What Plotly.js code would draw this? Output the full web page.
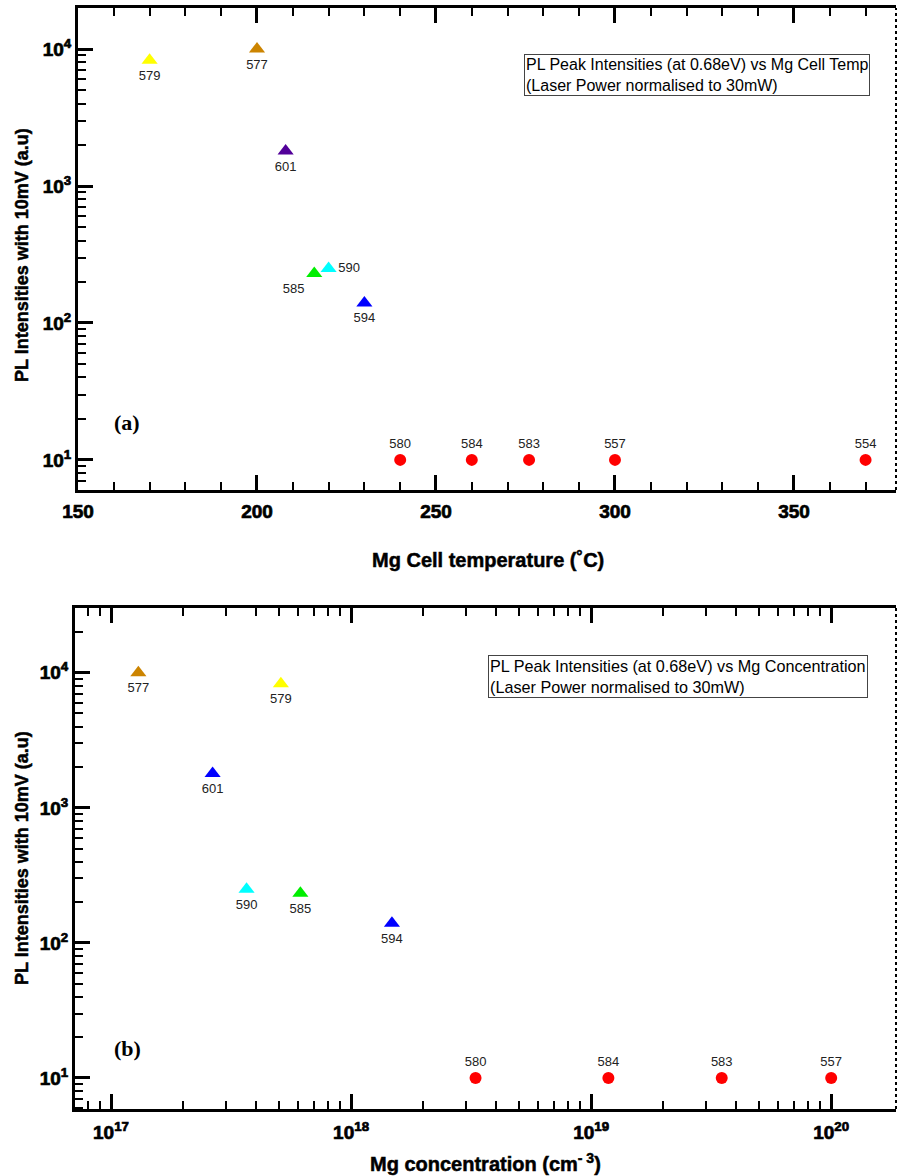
<!DOCTYPE html>
<html>
<head>
<meta charset="utf-8">
<script src="https://cdn.plot.ly/plotly-3.0.1.min.js"></script>
<style>
html,body{margin:0;padding:0;background:#fff;}
#chart{width:897px;height:1176px;}
#chart .xtick text, #chart .x2tick text, #chart .ytick text, #chart .y2tick text { stroke:#000; stroke-width:0.7px; }
#chart .annotation-text.heavy { stroke:#000; stroke-width:0.4px; }
</style>
</head>
<body>
<div id="chart"></div>
<script>
// ---- Panel (a): PL intensity vs Mg cell temperature ----
const samplesA = ['579', '577', '601', '585', '590', '594', '580', '584', '583', '557', '554'];
const cellTempA = [170, 200, 208, 216, 220, 230, 240, 260, 276, 300, 370];
const intensityA = [8300, 10000, 1800, 230, 250, 140, 10, 10, 10, 10, 10];
const colorsA = ['#ffff00', '#cc8400', '#520099', '#00ee00', '#00ffff', '#0000ff',
                 '#ff0000', '#ff0000', '#ff0000', '#ff0000', '#ff0000'];
const symbolsA = ['triangle-up','triangle-up','triangle-up','triangle-up','triangle-up','triangle-up',
                  'circle','circle','circle','circle','circle'];
const labelPosA = ['bottom center','bottom center','bottom center','bottom left','middle right','bottom center',
                   'top center','top center','top center','top center','top center'];

// ---- Panel (b): PL intensity vs Mg concentration ----
const samplesB = ['577', '579', '601', '590', '585', '594', '580', '584', '583', '557'];
const mgConcB = [1.3e17, 5.1e17, 2.65e17, 3.67e17, 6.15e17, 1.48e18, 3.3e18, 1.18e19, 3.5e19, 1.0e20];
const intensityB = [10000, 8300, 1800, 250, 233, 140, 10, 10, 10, 10];
const colorsB = ['#cc8400', '#ffff00', '#0000ff', '#00ffff', '#00ee00', '#0000ff',
                 '#ff0000', '#ff0000', '#ff0000', '#ff0000'];
const symbolsB = ['triangle-up','triangle-up','triangle-up','triangle-up','triangle-up','triangle-up',
                  'circle','circle','circle','circle'];
const labelPosB = ['bottom center','bottom center','bottom center','bottom center','bottom center','bottom center',
                   'top center','top center','top center','top center'];

// ---- Tick labels ----
const xTickValsA = [150, 200, 250, 300, 350];
const xTickTextA = ['<b>150</b>', '<b>200</b>', '<b>250</b>', '<b>300</b>', '<b>350</b>'];
const yTickVals = [10, 100, 1000, 10000];
const yTickText = ['<b>10<sup>1</sup></b>', '<b>10<sup>2</sup></b>', '<b>10<sup>3</sup></b>', '<b>10<sup>4</sup></b>'];
const xTickValsB = [1e17, 1e18, 1e19, 1e20];
const xTickTextB = ['<b>10<sup>17</sup></b>', '<b>10<sup>18</sup></b>', '<b>10<sup>19</sup></b>', '<b>10<sup>20</sup></b>'];

const FONT = 'Liberation Sans, Arial, Helvetica, sans-serif';
const sizesFor = syms => syms.map(s => s === 'circle' ? 12 : 14);

const traces = [
  {
    x: cellTempA, y: intensityA, xaxis: 'x', yaxis: 'y',
    type: 'scatter', mode: 'markers+text', opacity: 1,
    text: samplesA, textposition: labelPosA,
    textfont: {family: FONT, size: 13, color: '#222'},
    marker: {color: colorsA, symbol: symbolsA, size: sizesFor(symbolsA), opacity: 1, line: {width: 0}},
    cliponaxis: false, hoverinfo: 'x+y+text'
  },
  {
    x: mgConcB, y: intensityB, xaxis: 'x2', yaxis: 'y2',
    type: 'scatter', mode: 'markers+text', opacity: 1,
    text: samplesB, textposition: labelPosB,
    textfont: {family: FONT, size: 13, color: '#222'},
    marker: {color: colorsB, symbol: symbolsB, size: sizesFor(symbolsB), opacity: 1, line: {width: 0}},
    cliponaxis: false, hoverinfo: 'x+y+text'
  }
];

const tickFont = {family: FONT, size: 19, color: '#000'};
const domXA = [78/897, 896/897];
const domYA = [1 - 490/1176, 1 - 8/1176];
const domXB = [75/897, 896/897];
const domYB = [1 - 1109/1176, 1 - 608/1176];

function leftLogY(range, domain, anchor) {
  return {
    type: 'log', range: range, domain: domain, anchor: anchor,
    tickmode: 'array', tickvals: yTickVals, ticktext: yTickText,
    ticks: 'inside', ticklen: 15, tickwidth: 3, tickcolor: '#000',
    showline: true, linewidth: 3, linecolor: '#000', mirror: false,
    showgrid: false, zeroline: false, tickfont: tickFont,
    minor: {dtick: 'D1', ticks: 'inside', ticklen: 8, tickwidth: 2, tickcolor: '#000', showgrid: false}
  };
}
function rightLogY(range, overlay, anchor) {
  return {
    type: 'log', range: range, overlaying: overlay, side: 'right', anchor: anchor,
    tickmode: 'array', tickvals: yTickVals, showticklabels: false,
    ticks: 'inside', ticklen: 7, tickwidth: 3, tickcolor: '#000',
    showline: false, showgrid: false, zeroline: false,
    minor: {dtick: 'D1', ticks: 'inside', ticklen: 3, tickwidth: 2, tickcolor: '#000', showgrid: false}
  };
}

const titleFont = {family: FONT, size: 20, color: '#000'};
const layout = {
  width: 897, height: 1176,
  margin: {l: 0, r: 0, t: 0, b: 0},
  paper_bgcolor: '#fff', plot_bgcolor: '#fff',
  showlegend: false,
  font: {family: FONT, color: '#000'},
  xaxis: {
    range: [150, 378.5], domain: domXA, anchor: 'y',
    tickmode: 'array', tickvals: xTickValsA, ticktext: xTickTextA,
    ticks: 'inside', ticklen: 15, tickwidth: 3, tickcolor: '#000',
    showline: true, linewidth: 3, linecolor: '#000', mirror: 'ticks',
    showgrid: false, zeroline: false, tickfont: tickFont, ticklabelstandoff: 2,
    minor: {tick0: 150, dtick: 10, ticks: 'inside', ticklen: 8, tickwidth: 2, tickcolor: '#000', showgrid: false}
  },
  yaxis: leftLogY([0.78, 4.30], domYA, 'x'),
  yaxis3: rightLogY([0.78, 4.30], 'y', 'x'),
  xaxis2: {
    type: 'log', range: [16.85, 20.27], domain: domXB, anchor: 'y2',
    tickmode: 'array', tickvals: xTickValsB, ticktext: xTickTextB,
    ticks: 'inside', ticklen: 15, tickwidth: 3, tickcolor: '#000',
    showline: true, linewidth: 3, linecolor: '#000', mirror: 'ticks',
    showgrid: false, zeroline: false, tickfont: tickFont, ticklabelstandoff: 4,
    minor: {dtick: 'D1', ticks: 'inside', ticklen: 8, tickwidth: 2, tickcolor: '#000', showgrid: false}
  },
  yaxis2: leftLogY([0.77, 4.48], domYB, 'x2'),
  yaxis4: rightLogY([0.77, 4.48], 'y2', 'x2'),
  shapes: [
    {type: 'line', xref: 'x domain', yref: 'y domain', x0: 1, x1: 1, y0: 0, y1: 1,
     line: {color: '#000', width: 2, dash: 'dot'}},
    {type: 'line', xref: 'x2 domain', yref: 'y2 domain', x0: 1, x1: 1, y0: 0, y1: 1,
     line: {color: '#000', width: 2, dash: 'dot'}}
  ],
  annotations: [
    {xref: 'paper', yref: 'paper', x: 524/897, y: 1 - 54/1176, xanchor: 'left', yanchor: 'top',
     text: 'PL Peak Intensities (at 0.68eV) vs Mg Cell Temp<br>(Laser Power normalised to 30mW)',
     align: 'left', showarrow: false, font: {family: FONT, size: 16, color: '#000'},
     bordercolor: '#444', borderwidth: 1, borderpad: 1, bgcolor: '#fff'},
    {xref: 'paper', yref: 'paper', x: 488/897, y: 1 - 655/1176, xanchor: 'left', yanchor: 'top',
     text: 'PL Peak Intensities (at 0.68eV) vs Mg Concentration<br>(Laser Power normalised to 30mW)',
     align: 'left', showarrow: false, font: {family: FONT, size: 16.2, color: '#000'},
     bordercolor: '#444', borderwidth: 1, borderpad: 1, bgcolor: '#fff'},
    {xref: 'paper', yref: 'paper', x: 127/897, y: 1 - 423/1176, xanchor: 'center', yanchor: 'middle',
     text: '<b>(a)</b>', showarrow: false, font: {family: 'Liberation Serif, Times New Roman, serif', size: 22, color: '#000'}},
    {xref: 'paper', yref: 'paper', x: 127/897, y: 1 - 1048/1176, xanchor: 'center', yanchor: 'middle',
     text: '<b>(b)</b>', showarrow: false, font: {family: 'Liberation Serif, Times New Roman, serif', size: 22, color: '#000'}},
    {xref: 'paper', yref: 'paper', x: 22/897, y: 1 - 255/1176, xanchor: 'center', yanchor: 'middle', textangle: -90,
     text: '<b>PL Intensities with 10mV (a.u)</b>', showarrow: false, font: {family: FONT, size: 18, color: '#000'}},
    {xref: 'paper', yref: 'paper', x: 22/897, y: 1 - 858/1176, xanchor: 'center', yanchor: 'middle', textangle: -90,
     text: '<b>PL Intensities with 10mV (a.u)</b>', showarrow: false, font: {family: FONT, size: 18, color: '#000'}},
    {xref: 'paper', yref: 'paper', x: 488/897, y: 1 - 560/1176, xanchor: 'center', yanchor: 'middle',
     text: '<b>Mg Cell temperature (˚C)</b>', showarrow: false, font: titleFont},
    {xref: 'paper', yref: 'paper', x: 485/897, y: 1 - 1162/1176, xanchor: 'center', yanchor: 'middle',
     text: '<b>Mg concentration (cm<sup>- 3</sup>)</b>', showarrow: false, font: titleFont}
  ]
};

Plotly.newPlot('chart', traces, layout, {displayModeBar: false, staticPlot: true}).then(gd => {
  // make axis titles heavier, like the reference
  const heavy = ['PL Intensities', 'Mg Cell', 'Mg concentration'];
  gd.querySelectorAll('.annotation-text').forEach(t => {
    if (heavy.some(h => t.textContent.indexOf(h) === 0)) {
      t.style.stroke = '#000'; t.style.strokeWidth = '0.5px';
    }
  });
});
</script>
</body>
</html>
